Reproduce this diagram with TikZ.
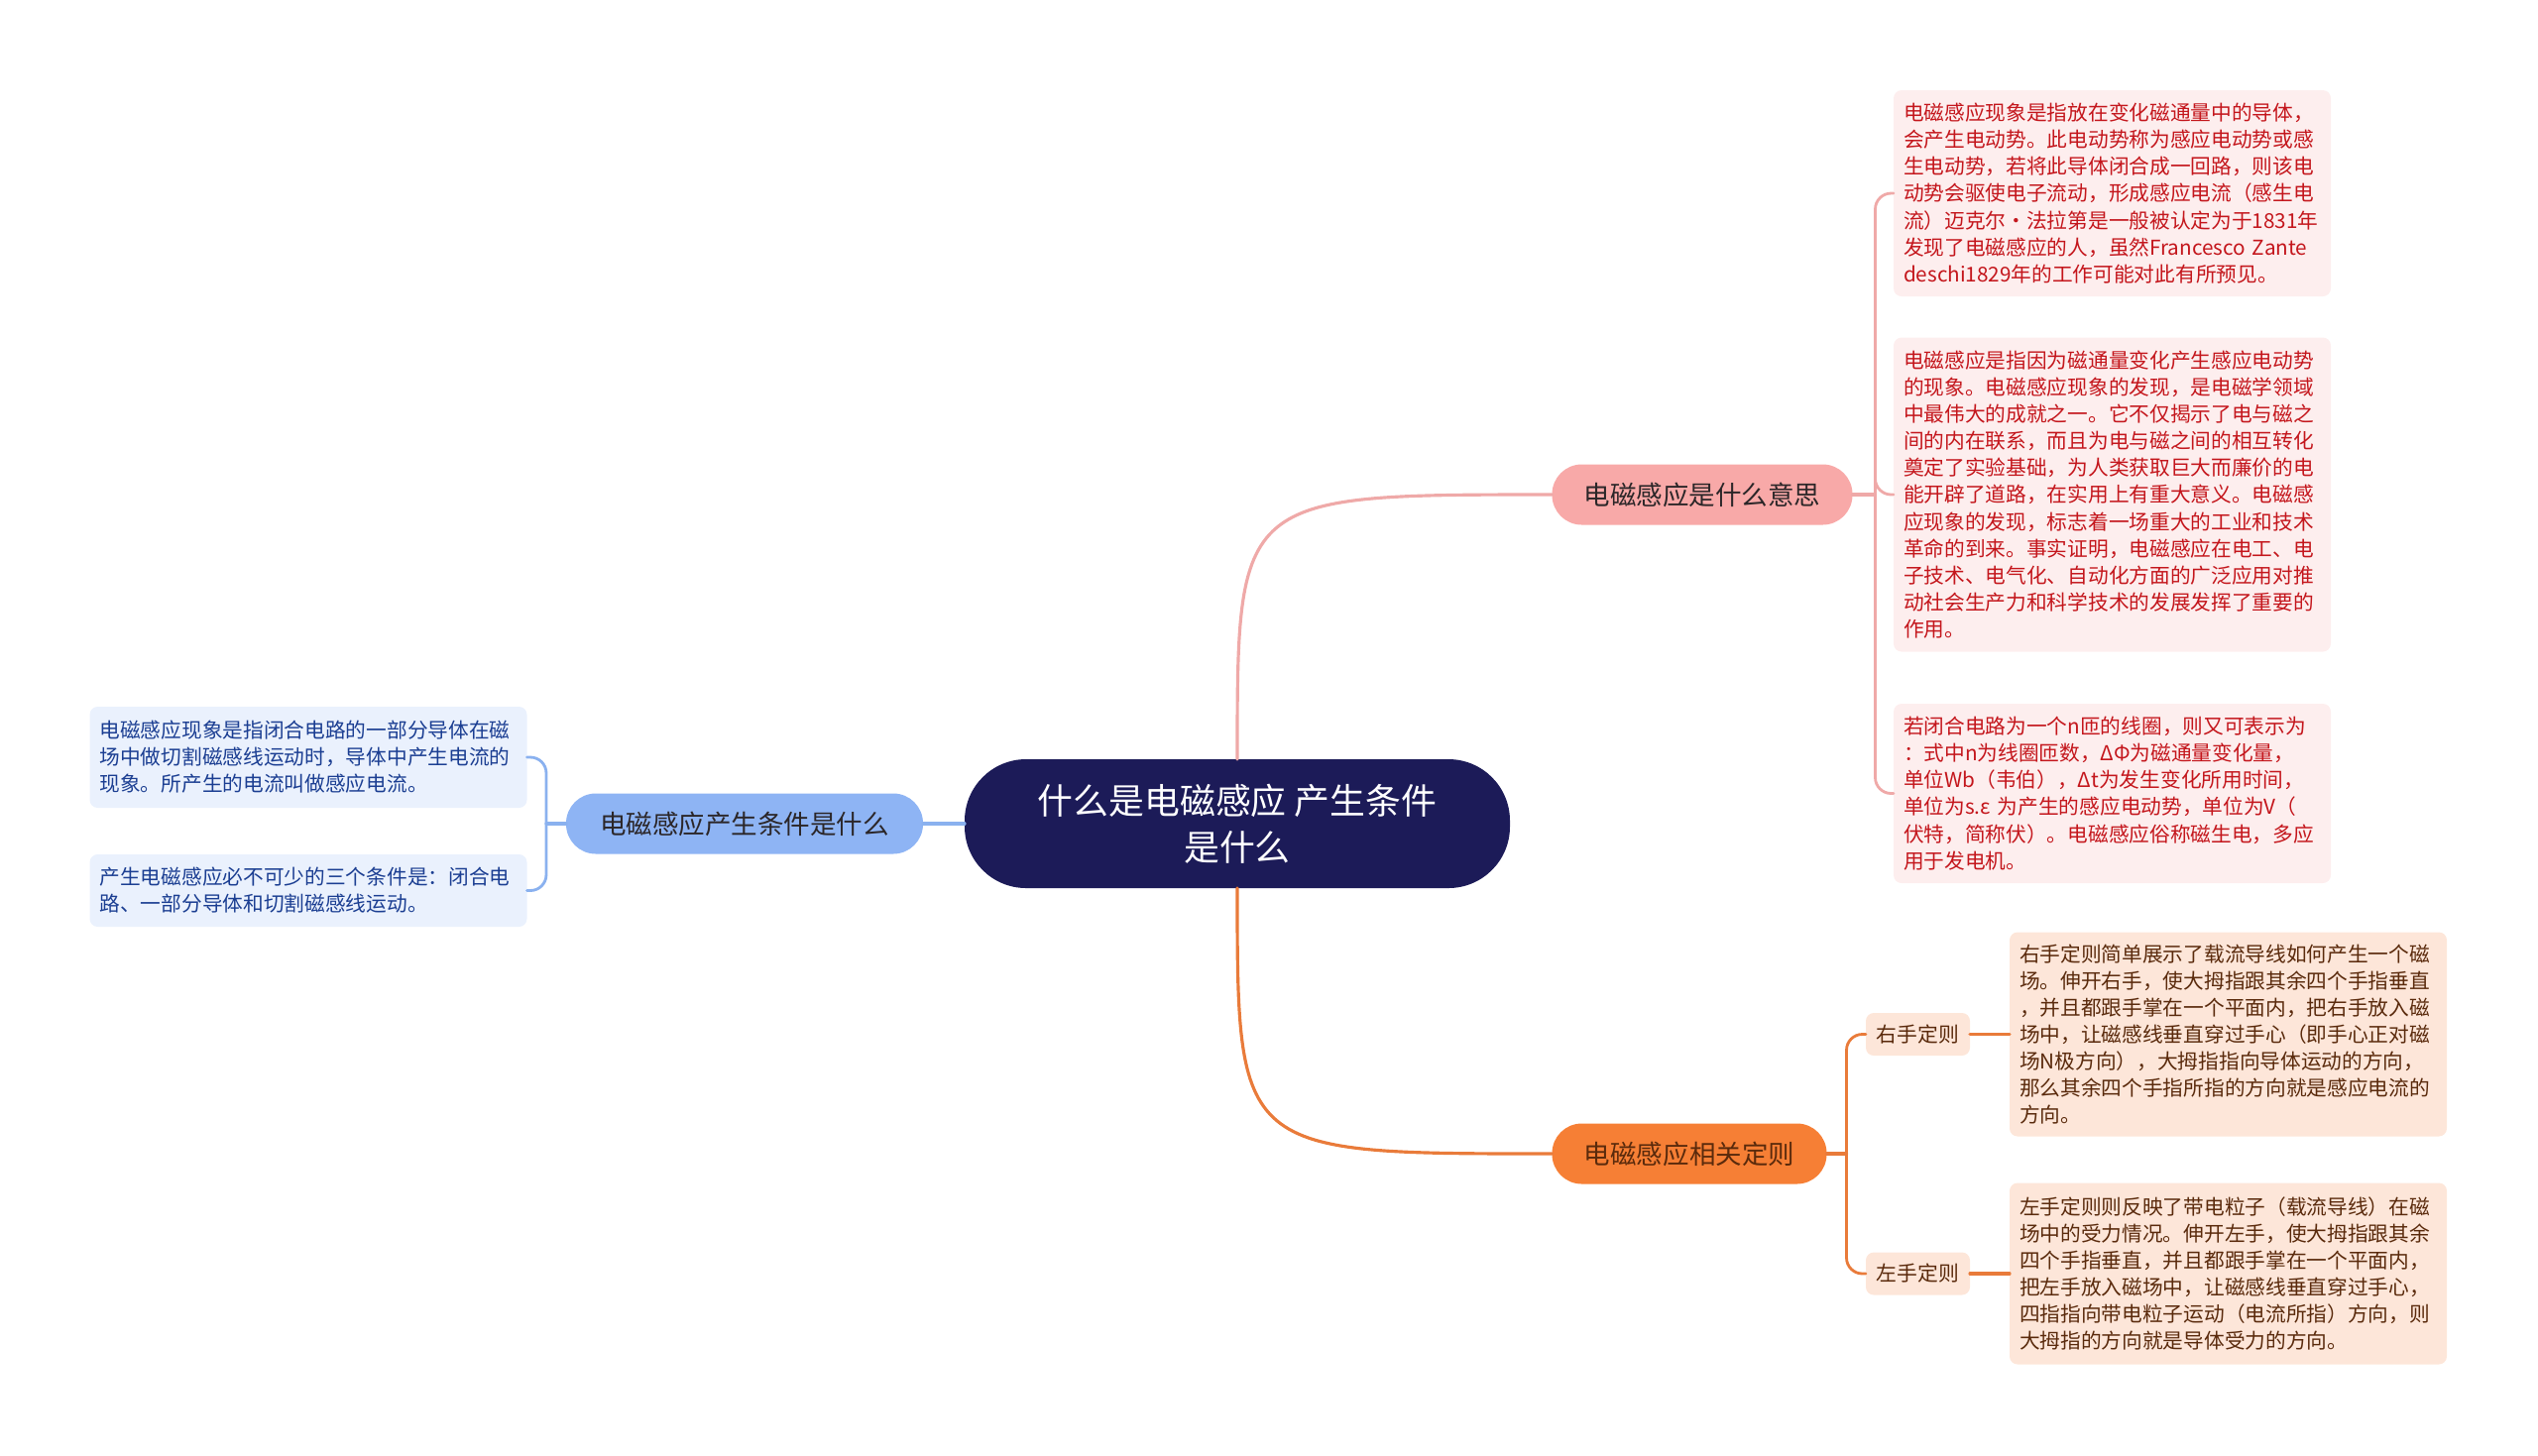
\documentclass[tikz,border=0pt]{standalone}
\usepackage{fontspec}
\setmainfont{Noto Sans CJK SC}
\usetikzlibrary{calc}
\definecolor{MapRoot}{HTML}{1C1B58}
\definecolor{MapPink}{HTML}{F8A9A8}
\definecolor{MapPinkLine}{HTML}{EFA9A8}
\definecolor{MapPinkLeaf}{HTML}{FDEEEE}
\definecolor{MapPinkInk}{HTML}{C4161C}
\definecolor{MapOrange}{HTML}{F67F35}
\definecolor{MapOrangeLine}{HTML}{E97B3A}
\definecolor{MapOrangeLeaf}{HTML}{FDE6D9}
\definecolor{MapOrangeInk}{HTML}{5A2A0C}
\definecolor{MapBlue}{HTML}{8EB4F4}
\definecolor{MapBlueLine}{HTML}{8AB1EF}
\definecolor{MapBlueLeaf}{HTML}{EAF1FD}
\definecolor{MapBlueInk}{HTML}{1B3E92}
\definecolor{MapInk}{HTML}{2B2628}
\tikzset{
    emap/diagram/.style={
        line cap=round,
        line join=round,
        every node/.style={inner sep=0pt, outer sep=0pt}
    },
    emap/root/.style={
        fill=MapRoot, text=white, align=center,
        rounded corners=0.62cm, minimum width=5.5cm, minimum height=1.3cm,
        font=\fontsize{10.2pt}{13.4pt}\selectfont
    },
    emap/branch/.style={
        rounded corners=0.3cm, minimum height=0.61cm, text=MapInk,
        font=\fontsize{7.55pt}{9pt}\selectfont
    },
    emap/leaf/.style={
        rounded corners=0.08cm, text width=4.21cm, inner xsep=0.1cm,
        align=left, font=\fontsize{5.89pt}{7.71pt}\selectfont
    },
    emap/rule/.style={
        rounded corners=0.08cm, fill=MapOrangeLeaf, text=MapOrangeInk,
        minimum width=1.05cm, minimum height=0.43cm,
        font=\fontsize{5.92pt}{7pt}\selectfont
    },
    emap/link/.style={line width=0.9pt},
    emap/fork/.style={line width=0.8pt, rounded corners=0.16cm}
}
\begin{document}
\begin{tikzpicture}[emap/diagram]
    \useasboundingbox (0,0) rectangle (25.6,-14.68);
    % centre and main branches
    \node[emap/root] (root) at (12.48,-8.31) {什么是电磁感应 产生条件\\是什么};
    \node[emap/branch, fill=MapPink, minimum width=3.03cm] (meaning) at (17.17,-4.99) {电磁感应是什么意思};
    \node[emap/branch, fill=MapOrange, text=MapOrangeInk, minimum width=2.77cm] (rules) at (17.04,-11.64) {电磁感应相关定则};
    \node[emap/branch, fill=MapBlue, minimum width=3.6cm] (cond) at (7.51,-8.31) {电磁感应产生条件是什么};
    \draw[emap/link, MapPinkLine] (root.north) .. controls (root.north |- meaning.west) .. (meaning.west);
    \draw[emap/link, MapOrangeLine] (root.south) .. controls (root.south |- rules.west) .. (rules.west);
    \draw[emap/link, MapBlueLine] (root.west) -- (cond.east);
    % what it means
    \node[emap/leaf, fill=MapPinkLeaf, text=MapPinkInk, minimum height=2.08cm] (meaningA) at (21.305,-1.95) {电磁感应现象是指放在变化磁通量中的导体，\\会产生电动势。此电动势称为感应电动势或感\\生电动势，若将此导体闭合成一回路，则该电\\动势会驱使电子流动，形成感应电流（感生电\\流）迈克尔·法拉第是一般被认定为于1831年\\发现了电磁感应的人，虽然Francesco Zante\\deschi1829年的工作可能对此有所预见。};
    \node[emap/leaf, fill=MapPinkLeaf, text=MapPinkInk, minimum height=3.17cm] (meaningB) at (21.305,-4.99) {电磁感应是指因为磁通量变化产生感应电动势\\的现象。电磁感应现象的发现，是电磁学领域\\中最伟大的成就之一。它不仅揭示了电与磁之\\间的内在联系，而且为电与磁之间的相互转化\\奠定了实验基础，为人类获取巨大而廉价的电\\能开辟了道路，在实用上有重大意义。电磁感\\应现象的发现，标志着一场重大的工业和技术\\革命的到来。事实证明，电磁感应在电工、电\\子技术、电气化、自动化方面的广泛应用对推\\动社会生产力和科学技术的发展发挥了重要的\\作用。};
    \node[emap/leaf, fill=MapPinkLeaf, text=MapPinkInk, minimum height=1.81cm] (meaningC) at (21.305,-8.005) {若闭合电路为一个n匝的线圈，则又可表示为\\：式中n为线圈匝数，ΔΦ为磁通量变化量，\\单位Wb（韦伯），Δt为发生变化所用时间，\\单位为s.ε 为产生的感应电动势，单位为V（\\伏特，简称伏）。电磁感应俗称磁生电，多应\\用于发电机。};
    \coordinate (meaningFork) at ($(meaning.east)+(0.23,0)$);
    \draw[emap/link, MapPinkLine] (meaning.east) -- (meaningFork);
    \foreach \leaf in {meaningA,meaningB,meaningC}
        \draw[emap/fork, MapPinkLine] (meaningFork) |- (\leaf.west);
    % conditions
    \node[emap/leaf, fill=MapBlueLeaf, text=MapBlueInk, minimum height=1.02cm] (condA) at (3.11,-7.64) {电磁感应现象是指闭合电路的一部分导体在磁\\场中做切割磁感线运动时，导体中产生电流的\\现象。所产生的电流叫做感应电流。};
    \node[emap/leaf, fill=MapBlueLeaf, text=MapBlueInk, minimum height=0.73cm] (condB) at (3.11,-8.985) {产生电磁感应必不可少的三个条件是：闭合电\\路、一部分导体和切割磁感线运动。};
    \coordinate (condFork) at ($(cond.west)+(-0.2,0)$);
    \draw[emap/link, MapBlueLine] (cond.west) -- (condFork);
    \foreach \leaf in {condA,condB}
        \draw[emap/fork, MapBlueLine] (condFork) |- (\leaf.east);
    % hand rules
    \node[emap/rule] (ruleRight) at (19.345,-10.435) {右手定则};
    \node[emap/rule] (ruleLeft) at (19.345,-12.85) {左手定则};
    \node[emap/leaf, fill=MapOrangeLeaf, text=MapOrangeInk, minimum height=2.06cm] (rightText) at (22.475,-10.435) {右手定则简单展示了载流导线如何产生一个磁\\场。伸开右手，使大拇指跟其余四个手指垂直\\，并且都跟手掌在一个平面内，把右手放入磁\\场中，让磁感线垂直穿过手心（即手心正对磁\\场N极方向），大拇指指向导体运动的方向，\\那么其余四个手指所指的方向就是感应电流的\\方向。};
    \node[emap/leaf, fill=MapOrangeLeaf, text=MapOrangeInk, minimum height=1.83cm] (leftText) at (22.475,-12.85) {左手定则则反映了带电粒子（载流导线）在磁\\场中的受力情况。伸开左手，使大拇指跟其余\\四个手指垂直，并且都跟手掌在一个平面内，\\把左手放入磁场中，让磁感线垂直穿过手心，\\四指指向带电粒子运动（电流所指）方向，则\\大拇指的方向就是导体受力的方向。};
    \coordinate (rulesFork) at ($(rules.east)+(0.2,0)$);
    \draw[emap/link, MapOrangeLine] (rules.east) -- (rulesFork);
    \foreach \leaf in {ruleRight,ruleLeft}
        \draw[emap/fork, MapOrangeLine] (rulesFork) |- (\leaf.west);
    \draw[emap/link, MapOrangeLine] (ruleRight.east) -- (rightText.west);
    \draw[emap/link, MapOrangeLine] (ruleLeft.east) -- (leftText.west);
\end{tikzpicture}
\end{document}
